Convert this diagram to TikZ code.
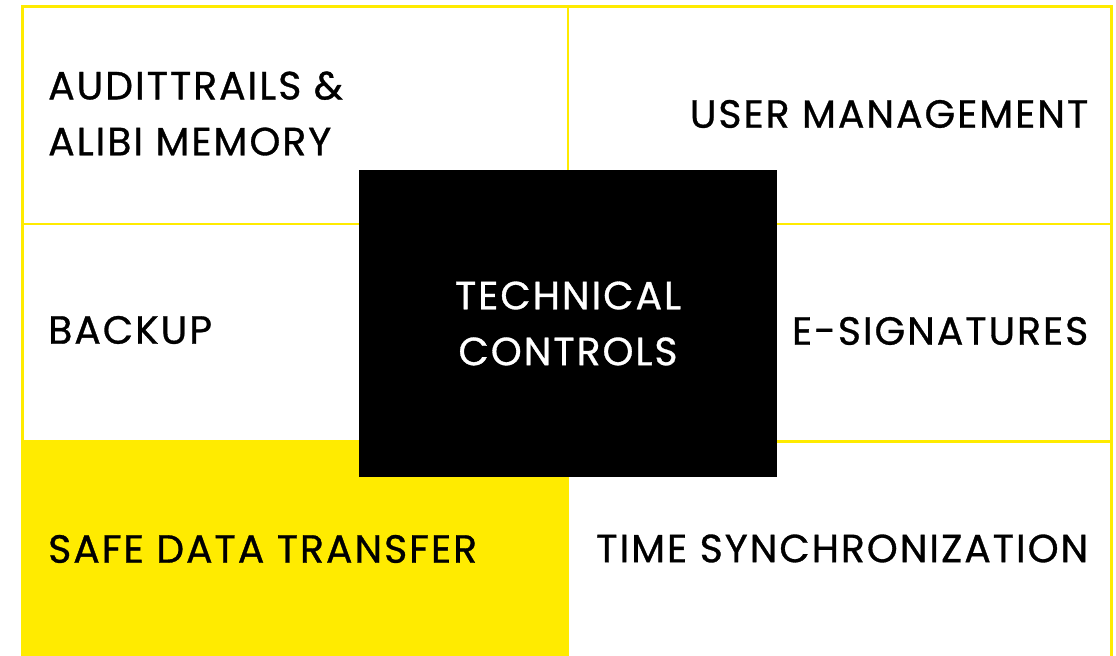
\documentclass[tikz,border=0pt]{standalone}
\usepackage{fontspec}
\setmainfont{Poppins}[LetterSpace=5,FakeBold=0.8]
\usepackage{tikz}
\usetikzlibrary{positioning}

\definecolor{gridyellow}{RGB}{255,235,0}

\tikzset{
  gridline/.style={draw=gridyellow,line width=0.025cm},
  celltext/.style={font=\fontsize{11.2}{15.9}\selectfont,text=black,inner sep=0pt},
  leftcell/.style={celltext,anchor=west,align=left},
  rightcell/.style={celltext,anchor=east,align=right}
}

\begin{document}
\begin{tikzpicture}
\useasboundingbox (0,0) rectangle (11.16,6.56);
\fill[white] (0,0) rectangle (11.16,6.56);

% grid
\draw[gridline] (0.225,0) |- (11.115,6.497) -- (11.115,0);
\draw[gridline] (5.68,0) -- (5.68,6.497);
\draw[gridline] (0.225,4.32) -- (11.115,4.32);
\draw[gridline] (0.225,2.145) -- (11.115,2.145);
\fill[gridyellow] (0.213,0) rectangle (5.693,2.155);

% cells
\node[leftcell] (audit) at (0.475,5.425) {AUDITTRAILS \&\\ALIBI MEMORY};
\node[rightcell] (user) at (10.89,5.42) {USER MANAGEMENT};
\node[leftcell] (backup) at (0.475,3.26) {BACKUP};
\node[rightcell] (esig) at (10.89,3.25) {E-SIGNATURES};
\node[leftcell] (transfer) at (0.475,1.07) {SAFE DATA TRANSFER};
\node[rightcell] (timesync) at (10.89,1.075) {TIME SYNCHRONIZATION};

% centre box
\node[celltext,fill=black,text=white,align=center,minimum width=4.18cm,minimum height=3.07cm] (controls) at (5.68,3.325) {TECHNICAL\\CONTROLS};

\end{tikzpicture}
\end{document}
